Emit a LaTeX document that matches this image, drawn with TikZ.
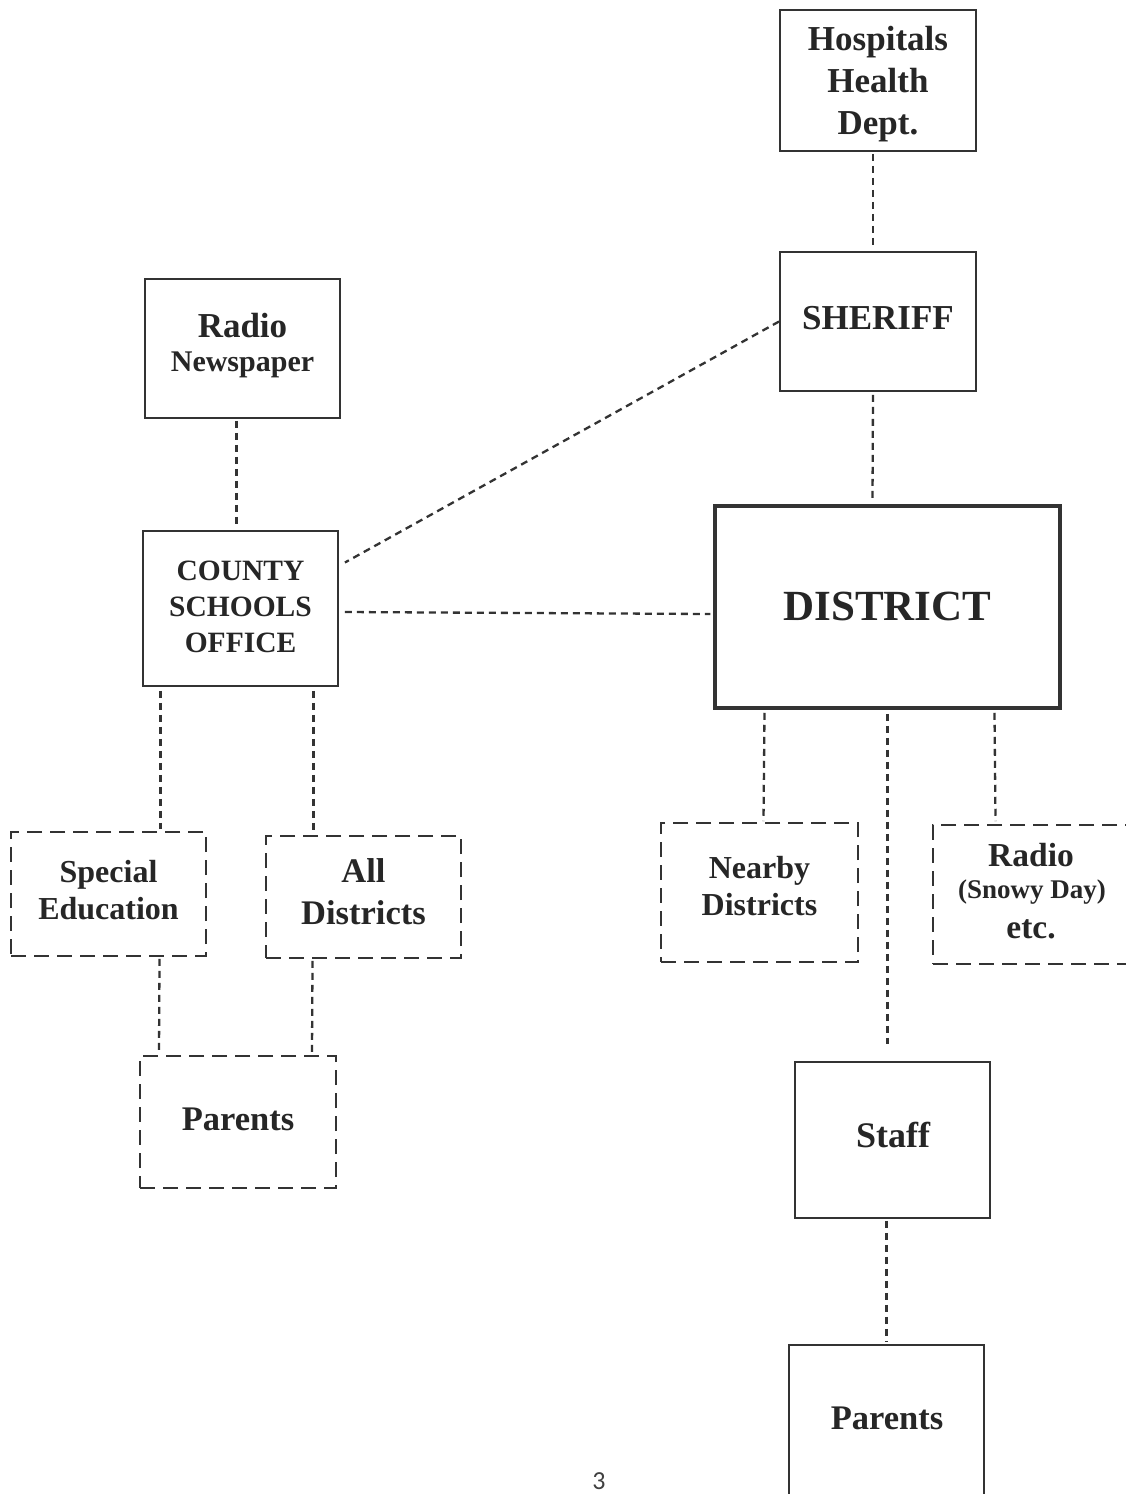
\documentclass[tikz,border=0pt]{standalone}
\usepackage{fontspec}
\setmainfont{Liberation Serif}
\newfontfamily\pagefont{Carlito}
\newcommand{\fs}[2]{\fontsize{#1}{#2}\selectfont}
\begin{document}
\begin{tikzpicture}[x=1pt,y=-1pt,
  solidbox/.style={draw=black!80, line width=1.9pt, rectangle, align=center,
    font=\bfseries, text=black!85, inner sep=0pt},
  dashbox/.style={solidbox, dash pattern=on 15pt off 8pt},
  bigbox/.style={solidbox, line width=3.5pt},
  label/.style={align=center, text=black!85, inner sep=0pt},
  link/.style={draw=black!80, line width=2.3pt, dash pattern=on 7pt off 5pt}
]
\useasboundingbox (0,0) rectangle (1126,1494);
\clip (0,0) rectangle (1126,1494);
\fill[white] (0,0) rectangle (1126,1494);

% boxes
\node[solidbox, minimum width=196pt, minimum height=141pt] (hosp) at (878,80.5) {};
\node[solidbox, minimum width=196pt, minimum height=139pt] (sheriff) at (878,321.5) {};
\node[solidbox, minimum width=195pt, minimum height=139pt] (radio) at (242.5,348.5) {};
\node[solidbox, minimum width=195pt, minimum height=155pt] (county) at (240.5,608.5) {};
\node[bigbox, minimum width=345pt, minimum height=202pt] (district) at (887.5,607) {};
\node[dashbox, minimum width=195pt, minimum height=124pt] (sped) at (108.5,894) {};
\node[dashbox, minimum width=195pt, minimum height=122pt] (alld) at (363.5,897) {};
\node[dashbox, minimum width=197pt, minimum height=139pt] (nearby) at (759.5,892.5) {};
\node[dashbox, minimum width=195pt, minimum height=139pt] (radio2) at (1030.5,894.5) {};
\node[dashbox, minimum width=196pt, minimum height=132pt] (parL) at (238,1122) {};
\node[solidbox, minimum width=195pt, minimum height=156pt] (staff) at (892.5,1140) {};
\node[solidbox, minimum width=195pt, minimum height=160pt] (parR) at (886.5,1425) {};

% texts
\node[label, font=\bfseries\fs{35}{42}] (hospt) at (878,84) {Hospitals\\Health\\Dept.};
\node[label, font=\bfseries\fs{35}{42}] (sherifft) at (878,318) {SHERIFF};
\node[label, font=\bfseries\fs{35}{40}] (radiot) at (242.5,326) {Radio};
\node[label, font=\bfseries\fs{30}{35}] (newst) at (242.5,365) {Newspaper};
\node[label, font=\bfseries\fs{29.5}{36}] (countyt) at (240.5,607) {COUNTY\\SCHOOLS\\OFFICE};
\node[label, font=\bfseries\fs{43}{50}] (districtt) at (887.5,606) {DISTRICT};
\node[label, font=\bfseries\fs{32}{37}] (spedt) at (108.5,890) {Special\\Education};
\node[label, font=\bfseries\fs{34.5}{42}] (alldt) at (363.5,892) {All\\Districts};
\node[label, font=\bfseries\fs{32}{37}] (nearbyt) at (759.5,886) {Nearby\\Districts};
\node[label, font=\bfseries\fs{33.5}{38}] (r2a) at (1031,855) {Radio};
\node[label, font=\bfseries\fs{27}{32}] (r2b) at (1032,892) {(Snowy Day)};
\node[label, font=\bfseries\fs{33.5}{38}] (r2c) at (1031,929) {etc.};
\node[label, font=\bfseries\fs{34.5}{40}] (parLt) at (238,1119) {Parents};
\node[label, font=\bfseries\fs{36}{40}] (stafft) at (893,1135) {Staff};
\node[label, font=\bfseries\fs{34.5}{40}] (parRt) at (887,1418) {Parents};
\node[label, font=\pagefont\fs{26}{30}, text=black!75] (pg) at (599,1481) {3};

% connectors
\draw[link] ([xshift=-5pt,yshift=-2pt]hosp.south) -- ([xshift=-5pt,yshift=3pt]sheriff.north);
\draw[link] ([xshift=-5pt,yshift=-3pt]sheriff.south) -- ([xshift=-15pt,yshift=4pt]district.north);
\draw[link] (sheriff.west) -- ([xshift=6pt,yshift=46pt]county.east);
\draw[link] ([xshift=6pt,yshift=-3.5pt]county.east) -- ([xshift=-3pt,yshift=-7pt]district.west);
\draw[link] ([xshift=-6pt,yshift=-2pt]radio.south) -- ([xshift=-4pt,yshift=3pt]county.north);
\draw[link] ([xshift=-80pt,yshift=-4pt]county.south) -- ([xshift=52pt,yshift=2pt]sped.north);
\draw[link] ([xshift=73pt,yshift=-4pt]county.south) -- ([xshift=-50pt,yshift=4pt]alld.north);
\draw[link] ([xshift=51pt,yshift=-2pt]sped.south) -- ([xshift=-79pt,yshift=2pt]parL.north);
\draw[link] ([xshift=-51pt,yshift=-2pt]alld.south) -- ([xshift=74pt,yshift=2pt]parL.north);
\draw[link] ([xshift=-123pt,yshift=-3pt]district.south) -- ([xshift=4pt,yshift=1pt]nearby.north);
\draw[link] ([xshift=107pt,yshift=-3pt]district.south) -- ([xshift=-35pt,yshift=3pt]radio2.north);
\draw[link] ([xshift=0pt,yshift=-4pt]district.south) -- ([xshift=-5pt,yshift=17pt]staff.north);
\draw[link] ([xshift=-6pt,yshift=-2pt]staff.south) -- ([xshift=0pt,yshift=3pt]parR.north);
\end{tikzpicture}
\end{document}
